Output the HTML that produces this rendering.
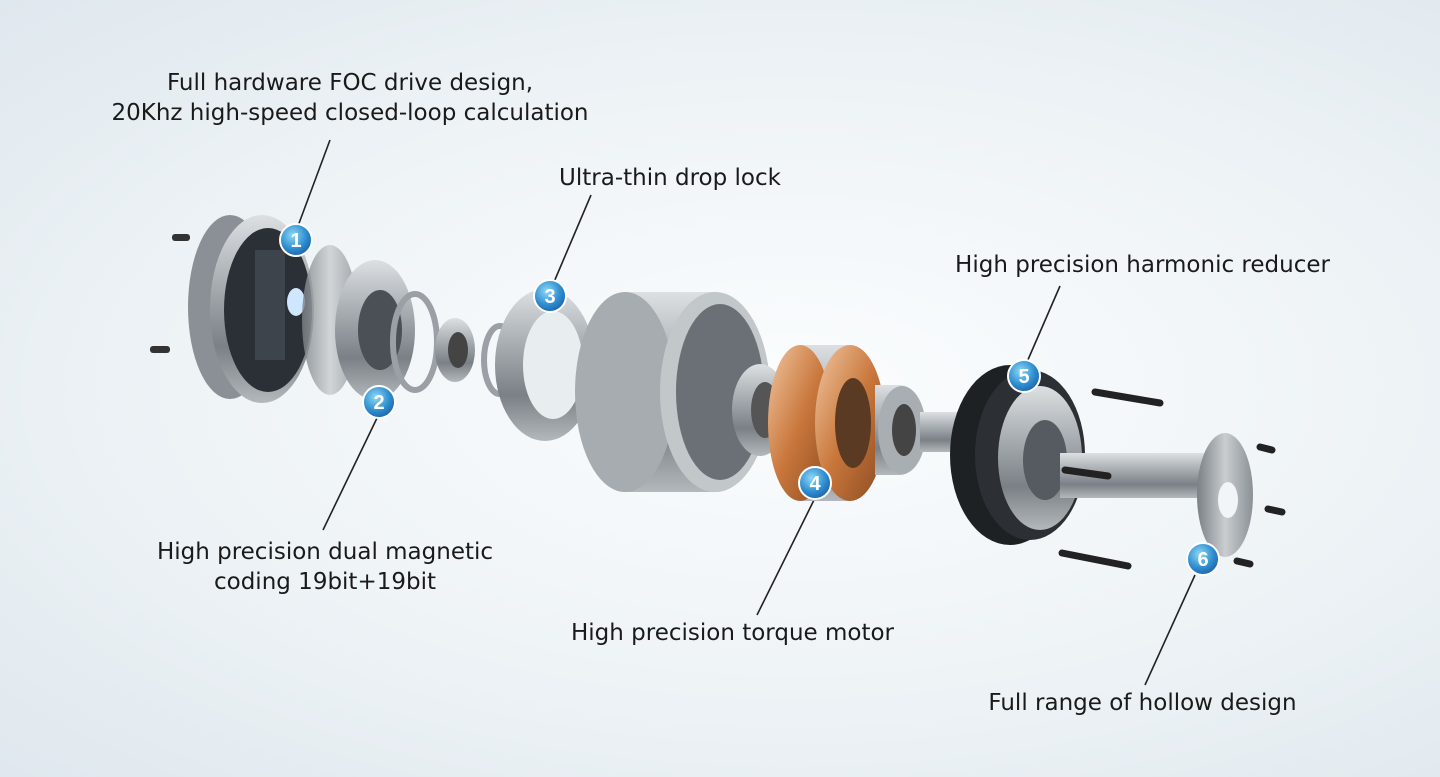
<!DOCTYPE html>
<html><head><meta charset="utf-8"><style>
html,body{margin:0;padding:0}
body{width:1440px;height:777px;overflow:hidden;background:radial-gradient(ellipse at 55% 50%,#fbfdfe 0%,#eef3f6 55%,#dfe8ee 100%);font-family:"DejaVu Sans","Liberation Sans",sans-serif;position:relative}
.t{position:absolute;font-size:23px;color:#1a1a1a;text-align:center;line-height:30px;white-space:nowrap}
svg{position:absolute;left:0;top:0}
</style></head><body>
<svg width="1440" height="777" viewBox="0 0 1440 777">
<defs>
<linearGradient id="met" x1="0" y1="0" x2="0" y2="1"><stop offset="0" stop-color="#dde0e3"/><stop offset=".35" stop-color="#a9afb3"/><stop offset=".7" stop-color="#7a8085"/><stop offset="1" stop-color="#b3b8bc"/></linearGradient>
<linearGradient id="met2" x1="0" y1="0" x2="1" y2="0"><stop offset="0" stop-color="#7a8085"/><stop offset=".5" stop-color="#c9cdd0"/><stop offset="1" stop-color="#8b9196"/></linearGradient>
<linearGradient id="cu" x1="0" y1="0" x2="1" y2="1"><stop offset="0" stop-color="#f1c7a0"/><stop offset=".5" stop-color="#c9773c"/><stop offset="1" stop-color="#8a4a20"/></linearGradient>
<radialGradient id="bd" cx=".4" cy=".35" r=".7"><stop offset="0" stop-color="#8fd8f5"/><stop offset=".6" stop-color="#2f8fd0"/><stop offset="1" stop-color="#1b5fa8"/></radialGradient>
</defs>
<g stroke="#222" stroke-width="1.6" fill="none">
<line x1="330" y1="140" x2="298" y2="226"/><line x1="378" y1="416" x2="323" y2="530"/>
<line x1="591" y1="195" x2="554" y2="282"/><line x1="815" y1="498" x2="757" y2="615"/>
<line x1="1060" y1="286" x2="1027" y2="362"/><line x1="1195" y1="575" x2="1145" y2="685"/>
</g>
<ellipse cx="230" cy="307" rx="42" ry="92" fill="#8a9095"/>
<ellipse cx="262" cy="309" rx="52" ry="94" fill="url(#met)"/>
<ellipse cx="268" cy="310" rx="44" ry="82" fill="#2b3036"/>
<rect x="255" y="250" width="30" height="110" fill="#3d444c"/>
<ellipse cx="296" cy="302" rx="9" ry="14" fill="#cfe6ff"/>
<g fill="#333"><rect x="172" y="234" width="18" height="7" rx="3"/><rect x="150" y="346" width="20" height="7" rx="3"/></g>
<ellipse cx="330" cy="320" rx="28" ry="75" fill="url(#met2)" opacity=".8"/>
<ellipse cx="375" cy="330" rx="40" ry="70" fill="url(#met)"/>
<ellipse cx="380" cy="330" rx="22" ry="40" fill="#4a5055"/>
<ellipse cx="415" cy="342" rx="22" ry="48" fill="none" stroke="#9aa0a5" stroke-width="6"/>
<ellipse cx="455" cy="350" rx="20" ry="32" fill="url(#met)"/><ellipse cx="458" cy="350" rx="10" ry="18" fill="#444"/>
<ellipse cx="500" cy="360" rx="16" ry="34" fill="none" stroke="#9aa0a5" stroke-width="6"/>
<ellipse cx="545" cy="365" rx="50" ry="76" fill="url(#met)"/>
<ellipse cx="553" cy="365" rx="30" ry="54" fill="#e8edf0"/>
<path d="M625 292 L715 292 A55 100 0 0 1 715 492 L625 492 Z" fill="url(#met)"/>
<ellipse cx="625" cy="392" rx="50" ry="100" fill="#a6acb0"/>
<ellipse cx="715" cy="392" rx="55" ry="100" fill="#c2c7ca"/>
<ellipse cx="720" cy="392" rx="44" ry="88" fill="#6a7076"/>
<ellipse cx="760" cy="410" rx="28" ry="46" fill="url(#met)"/><ellipse cx="765" cy="410" rx="14" ry="28" fill="#555"/>
<path d="M800 345 L850 345 A35 78 0 0 1 850 501 L800 501 Z" fill="url(#met)"/>
<ellipse cx="800" cy="423" rx="32" ry="78" fill="url(#cu)"/>
<ellipse cx="850" cy="423" rx="35" ry="78" fill="url(#cu)"/>
<ellipse cx="853" cy="423" rx="18" ry="45" fill="#5a3a22"/>
<path d="M875 385 L900 385 A25 45 0 0 1 900 475 L875 475 Z" fill="url(#met)"/>
<ellipse cx="902" cy="430" rx="24" ry="44" fill="#a8aeb2"/><ellipse cx="904" cy="430" rx="12" ry="26" fill="#444"/>
<rect x="920" y="412" width="50" height="40" fill="url(#met)"/>
<ellipse cx="1010" cy="455" rx="60" ry="90" fill="#1e2124"/>
<ellipse cx="1030" cy="455" rx="55" ry="85" fill="#2c3034"/>
<ellipse cx="1040" cy="458" rx="42" ry="72" fill="url(#met)"/>
<ellipse cx="1045" cy="460" rx="22" ry="40" fill="#555b60"/>
<rect x="1060" y="453" width="150" height="45" fill="url(#met)"/>
<ellipse cx="1225" cy="495" rx="28" ry="62" fill="url(#met2)"/>
<ellipse cx="1228" cy="500" rx="10" ry="18" fill="#f2f5f7"/>
<g stroke="#222" stroke-width="7" stroke-linecap="round">
<line x1="1095" y1="392" x2="1160" y2="403"/><line x1="1062" y1="553" x2="1128" y2="566"/>
<line x1="1065" y1="470" x2="1108" y2="476"/>
<line x1="1260" y1="447" x2="1272" y2="450"/><line x1="1268" y1="509" x2="1282" y2="512"/><line x1="1237" y1="561" x2="1250" y2="564"/>
</g>
<g font-family="Liberation Sans,sans-serif" font-size="20" font-weight="bold" fill="#fff" text-anchor="middle">
<g transform="translate(296,240)"><circle r="16" fill="url(#bd)" stroke="#fff" stroke-width="2"/><text y="7">1</text></g>
<g transform="translate(379,402)"><circle r="16" fill="url(#bd)" stroke="#fff" stroke-width="2"/><text y="7">2</text></g>
<g transform="translate(550,296)"><circle r="16" fill="url(#bd)" stroke="#fff" stroke-width="2"/><text y="7">3</text></g>
<g transform="translate(815,483)"><circle r="16" fill="url(#bd)" stroke="#fff" stroke-width="2"/><text y="7">4</text></g>
<g transform="translate(1024,376)"><circle r="16" fill="url(#bd)" stroke="#fff" stroke-width="2"/><text y="7">5</text></g>
<g transform="translate(1203,559)"><circle r="16" fill="url(#bd)" stroke="#fff" stroke-width="2"/><text y="7">6</text></g>
</g>
</svg>
<div class="t" style="left:100px;top:68px;width:500px">Full hardware FOC drive design,<br>20Khz high-speed closed-loop calculation</div>
<div class="t" style="left:520px;top:163px;width:300px">Ultra-thin drop lock</div>
<div class="t" style="left:930px;top:250px;width:425px">High precision harmonic reducer</div>
<div class="t" style="left:140px;top:537px;width:370px">High precision dual magnetic<br>coding 19bit+19bit</div>
<div class="t" style="left:560px;top:618px;width:345px">High precision torque motor</div>
<div class="t" style="left:970px;top:688px;width:345px">Full range of hollow design</div>
</body></html>
